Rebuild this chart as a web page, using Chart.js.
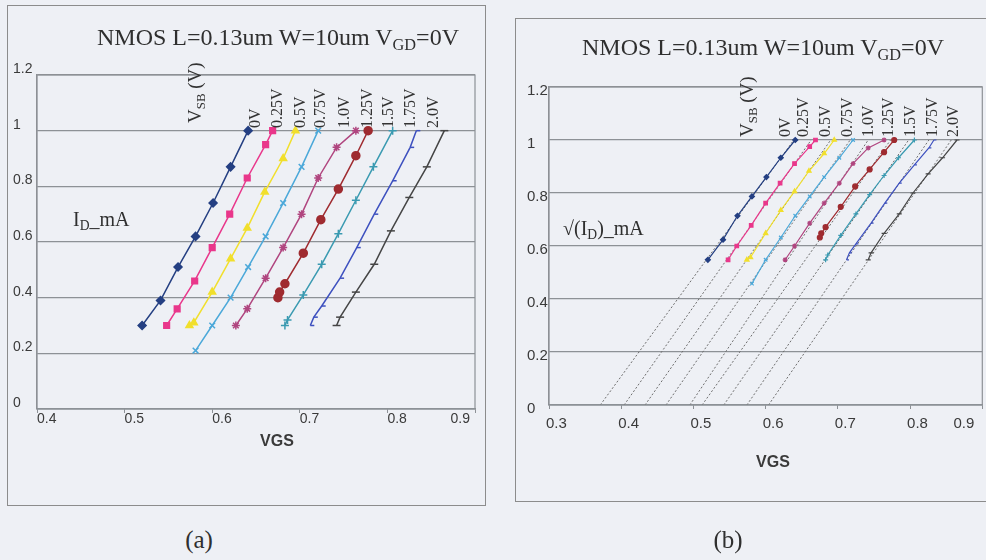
<!DOCTYPE html>
<html>
<head>
<meta charset="utf-8">
<script src="https://cdn.jsdelivr.net/npm/chart.js@4.4.1/dist/chart.umd.min.js"></script>
<style>
  body { margin: 0; width: 986px; height: 560px; overflow: hidden; background: #eef0f5; position: relative; }
  .box { position: absolute; border: 1px solid #8c8c8c; box-sizing: border-box; }
  canvas { position: absolute; }
  .t { position: absolute; white-space: nowrap; line-height: 1; color: #2f2f2f; font-family: "Liberation Serif", "DejaVu Serif", serif; }
  .sans { font-family: "Liberation Sans", Arial, sans-serif; font-weight: bold; color: #3a3a3a; }
  .sub { font-size: 68%; position: relative; top: 0.3em; }
  .rot { transform-origin: 0 0; transform: rotate(-90deg); font-size: 16px; color: #333; }
  .mid { transform: translateX(-50%); }
</style>
</head>
<body>
<div class="box" style="left:7px;top:5px;width:479px;height:501px"></div>
<div class="box" style="left:515px;top:18px;width:490px;height:484px"></div>
<canvas id="chartA" width="479" height="501" style="left:7px;top:5px"></canvas>
<canvas id="chartB" width="471" height="484" style="left:515px;top:18px"></canvas>

<div class="t" style="left:97px;top:25px;font-size:24px">NMOS L=0.13um W=10um V<span class="sub">GD</span>=0V</div>
<div class="t" style="left:582px;top:35px;font-size:24px">NMOS L=0.13um W=10um V<span class="sub">GD</span>=0V</div>
<div class="t" style="left:73px;top:209px;font-size:20px">I<span class="sub">D</span>_mA</div>
<div class="t" style="left:563px;top:218px;font-size:20px">√(I<span class="sub">D</span>)_mA</div>
<div class="t sans mid" style="left:277px;top:433px;font-size:16px">VGS</div>
<div class="t sans mid" style="left:773px;top:454px;font-size:16px">VGS</div>
<div class="t mid" style="left:199px;top:527px;font-size:25px">(a)</div>
<div class="t mid" style="left:728px;top:527px;font-size:25px">(b)</div>
<div class="t rot" style="left:185px;top:123px;font-size:19px">V<span class="sub">SB</span> (V)</div>
<div class="t rot" style="left:737px;top:137px;font-size:19px">V<span class="sub">SB</span> (V)</div>

<script>
// body-bias steps, one curve each
const vsb = ['0V', '0.25V', '0.5V', '0.75V', '1.0V', '1.25V', '1.5V', '1.75V', '2.0V'];

// VGS of each measured point (same for both panels)
const vgs = [
  [0.520, 0.541, 0.561, 0.581, 0.601, 0.621, 0.641],
  [0.548, 0.560, 0.580, 0.600, 0.620, 0.640, 0.661, 0.669],
  [0.574, 0.579, 0.600, 0.621, 0.640, 0.660, 0.681, 0.695],
  [0.581, 0.600, 0.621, 0.641, 0.661, 0.681, 0.702, 0.721],
  [0.627, 0.640, 0.661, 0.681, 0.702, 0.721, 0.742, 0.764],
  [0.675, 0.677, 0.683, 0.704, 0.724, 0.744, 0.764, 0.778],
  [0.683, 0.686, 0.704, 0.725, 0.744, 0.764, 0.784, 0.806],
  [0.712, 0.716, 0.725, 0.746, 0.765, 0.785, 0.806, 0.826, 0.833],
  [0.742, 0.746, 0.764, 0.785, 0.804, 0.825, 0.845, 0.865]
];

// (a) ID in mA
const idA = [
  [0.30, 0.39, 0.51, 0.62, 0.74, 0.87, 1.00],
  [0.30, 0.36, 0.46, 0.58, 0.70, 0.83, 0.95, 1.00],
  [0.30, 0.31, 0.42, 0.54, 0.65, 0.78, 0.90, 1.00],
  [0.21, 0.30, 0.40, 0.51, 0.62, 0.74, 0.87, 1.00],
  [0.30, 0.36, 0.47, 0.58, 0.70, 0.83, 0.94, 1.00],
  [0.40, 0.42, 0.45, 0.56, 0.68, 0.79, 0.91, 1.00],
  [0.30, 0.32, 0.41, 0.52, 0.63, 0.75, 0.87, 1.00],
  [0.30, 0.33, 0.37, 0.47, 0.58, 0.70, 0.82, 0.94, 1.00],
  [0.30, 0.33, 0.42, 0.52, 0.64, 0.76, 0.87, 1.00]
];

// (b) sqrt(ID)
const sqrtId = [
  [0.548, 0.624, 0.714, 0.787, 0.860, 0.933, 1.000],
  [0.548, 0.600, 0.678, 0.762, 0.837, 0.911, 0.975, 1.000],
  [0.548, 0.557, 0.648, 0.735, 0.806, 0.883, 0.949, 1.000],
  [0.458, 0.548, 0.632, 0.714, 0.787, 0.860, 0.933, 1.000],
  [0.548, 0.600, 0.686, 0.762, 0.837, 0.911, 0.970, 1.000],
  [0.632, 0.648, 0.671, 0.748, 0.825, 0.889, 0.954, 1.000],
  [0.548, 0.566, 0.640, 0.721, 0.794, 0.866, 0.933, 1.000],
  [0.548, 0.574, 0.608, 0.686, 0.762, 0.837, 0.906, 0.970, 1.000],
  [0.548, 0.574, 0.648, 0.721, 0.800, 0.872, 0.933, 1.000]
];

// (b) dotted straight-line fits: VGS at sqrt(ID)=0 and at sqrt(ID)=1
const fitV0 = [0.371, 0.404, 0.433, 0.462, 0.495, 0.512, 0.542, 0.574, 0.604];
const fitV1 = [0.639, 0.663, 0.690, 0.717, 0.742, 0.773, 0.798, 0.826, 0.857];

const yTicks = [0, 0.2, 0.4, 0.6, 0.8, 1, 1.2];
const xTicksA = [0.4, 0.5, 0.6, 0.7, 0.8, 0.9];
const xTicksB = [0.3, 0.4, 0.5, 0.6, 0.7, 0.8, 0.9];

const colors = ['#243f82', '#e9378b', '#f1df2c', '#4ba8d9', '#b0457f', '#9f2b30', '#3a9ab1', '#3d50bf', '#454545'];
const markers = ['rectRot', 'rect', 'triangle', 'crossRot', 'star', 'circle', 'cross', 'dash', 'line'];
const gridColor = '#8d9196';
const tickColor = '#3a3a3a';

// rotated curve labels, evenly spaced like the original
const lblLeftA = [247, 269, 292, 312, 336, 359, 380, 402, 425];
const lblLeftB = [777, 795, 817, 839, 860, 880, 902, 924, 945];
vsb.forEach((s, i) => {
  [[lblLeftA[i], 128], [lblLeftB[i], 137]].forEach(p => {
    const d = document.createElement('div');
    d.className = 't rot';
    d.style.left = p[0] + 'px';
    d.style.top = p[1] + 'px';
    d.textContent = s;
    document.body.appendChild(d);
  });
});

Chart.defaults.font.family = '"Liberation Sans", Arial, sans-serif';

// plot frame + x tick labels written from the tick start like the scan
const axisExtras = {
  id: 'axisExtras',
  afterDraw(chart, args, o) {
    const { ctx, chartArea: a } = chart;
    const x = chart.scales.x;
    ctx.save();
    ctx.strokeStyle = gridColor;
    ctx.lineWidth = 1.2;
    ctx.strokeRect(a.left, a.top, a.right - a.left, a.bottom - a.top);
    ctx.font = o.size + 'px "Liberation Sans", Arial, sans-serif';
    ctx.fillStyle = tickColor;
    x.ticks.forEach((t, i) => {
      const s = t.value.toFixed(1);
      const w = ctx.measureText(s).width;
      const px = Math.min(x.getPixelForTick(i) + o.dx, a.right - w - o.gap);
      ctx.fillText(s, px, a.bottom + o.dy);
    });
    ctx.restore();
  }
};

function curves(ys, r, w) {
  return vsb.map((name, i) => ({
    label: name,
    data: vgs[i].map((v, k) => ({ x: v, y: ys[i][k] })),
    showLine: true,
    borderColor: colors[i],
    backgroundColor: colors[i],
    borderWidth: w,
    pointStyle: markers[i],
    pointRadius: r,
    pointHoverRadius: r,
    pointBorderWidth: w
  }));
}

function makeChart(id, datasets, c) {
  return new Chart(document.getElementById(id), {
    type: 'scatter',
    data: { datasets: datasets },
    options: {
      responsive: false,
      animation: false,
      layout: { padding: c.pad },
      plugins: { legend: { display: false }, tooltip: { enabled: false }, axisExtras: c.xl },
      scales: {
        x: {
          min: c.xTicks[0], max: c.xTicks[c.xTicks.length - 1],
          afterBuildTicks: s => { s.ticks = c.xTicks.map(v => ({ value: v })); },
          afterFit: s => { s.height = c.xH; s.paddingLeft = 0; s.paddingRight = 0; },
          ticks: { display: false },
          grid: { drawOnChartArea: false, drawTicks: true, tickLength: 4, color: gridColor },
          border: { color: gridColor, width: 1.2 }
        },
        y: {
          min: 0, max: 1.2,
          afterBuildTicks: s => { s.ticks = yTicks.map(v => ({ value: v })); },
          afterFit: s => { s.width = c.yW; },
          ticks: {
            color: tickColor, font: { size: c.ySize }, crossAlign: 'far', labelOffset: c.yOff,
            callback: v => String(v)
          },
          grid: { color: gridColor, lineWidth: 1.2, drawTicks: false },
          border: { color: gridColor, width: 1.2 }
        }
      }
    },
    plugins: [axisExtras]
  });
}

makeChart('chartA', curves(idA, 4, 1.5), {
  xTicks: xTicksA, pad: { left: 6, top: 70, right: 11, bottom: 0 },
  yW: 24, xH: 97, ySize: 14, yOff: -6,
  xl: { size: 14, dx: 0, dy: 14, gap: 5 }
});

const fits = vsb.map((name, i) => ({
  label: name + ' fit',
  data: [{ x: fitV0[i], y: 0 }, { x: fitV1[i], y: 1 }],
  showLine: true,
  borderColor: '#6e6e6e',
  borderWidth: 1,
  borderDash: [2, 2],
  pointRadius: 0
}));

makeChart('chartB', curves(sqrtId, 2.5, 1.2).concat(fits), {
  xTicks: xTicksB, pad: { left: 12, top: 69, right: 3, bottom: 0 },
  yW: 22, xH: 97, ySize: 15, yOff: 4,
  xl: { size: 15, dx: -3, dy: 23, gap: 8 }
});
</script>
</body>
</html>
